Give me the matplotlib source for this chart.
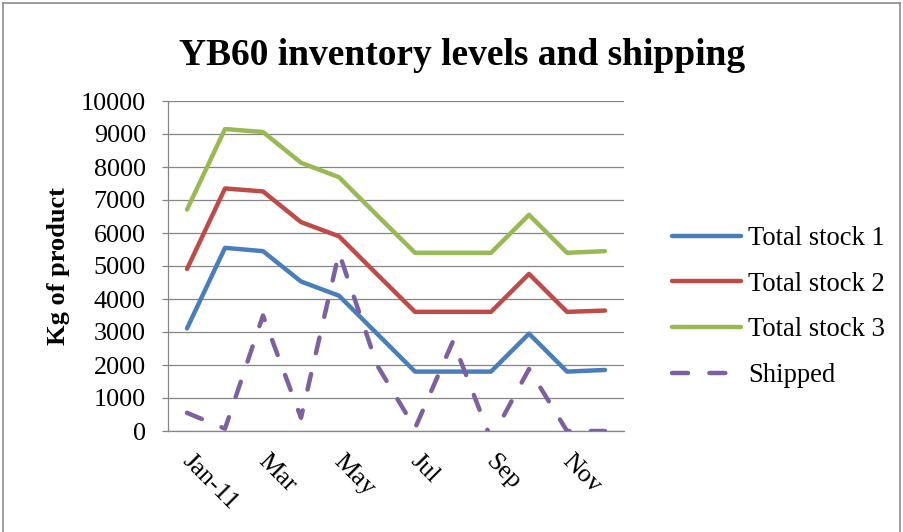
import matplotlib
matplotlib.use("Agg")
import matplotlib.pyplot as plt
from matplotlib.lines import Line2D
from matplotlib.transforms import ScaledTranslation

plt.rcParams['font.family'] = ['Liberation Serif', 'DejaVu Serif']

categories = ['Jan-11', 'Feb', 'Mar', 'Apr', 'May', 'Jun',
              'Jul', 'Aug', 'Sep', 'Oct', 'Nov', 'Dec']
stock1 = [3110, 5550, 5450, 4530, 4100, 2950, 1800, 1800, 1800, 2950, 1800, 1850]
stock2 = [4910, 7350, 7260, 6330, 5900, 4750, 3610, 3610, 3610, 4760, 3610, 3650]
stock3 = [6710, 9150, 9060, 8130, 7690, 6540, 5400, 5400, 5400, 6550, 5400, 5450]
shipped = [550, 70, 3500, 400, 5400, 2000, 80, 2720, -250, 1880, 0, 0]
series_names = ['Total stock 1', 'Total stock 2', 'Total stock 3', 'Shipped']
yticks = [0, 1000, 2000, 3000, 4000, 5000, 6000, 7000, 8000, 9000, 10000]

W, H = 904, 532
fig = plt.figure(figsize=(W / 100, H / 100), dpi=100)
ax = fig.add_axes([168 / W, 1 - 431 / H, (624 - 168) / W, (431 - 101) / H])

x = list(range(len(categories)))
lw = 3.2
ax.plot(x, stock1, color='#4A7EBB', lw=lw, solid_joinstyle='round', solid_capstyle='round', label=series_names[0], zorder=3)
ax.plot(x, stock2, color='#BE4B48', lw=lw, solid_joinstyle='round', solid_capstyle='round', label=series_names[1], zorder=3)
ax.plot(x, stock3, color='#98B954', lw=lw, solid_joinstyle='round', solid_capstyle='round', label=series_names[2], zorder=3)
ax.plot(x, shipped, color='#7D60A0', lw=lw, linestyle=(0, (3.6, 4.8)), dash_capstyle='round',
        dash_joinstyle='round', label=series_names[3], zorder=3)

ax.set_xlim(-0.5, len(categories) - 0.5)
ax.set_ylim(0, 10000)
ax.set_yticks(yticks)
ax.set_yticklabels([str(v) for v in yticks], fontsize=18.8)
ax.grid(axis='y', color='#868686', lw=0.9, zorder=1)
ax.set_axisbelow(True)

ax.set_xticks(x[::2])
ax.set_xticklabels(categories[::2], fontsize=18.8, rotation=-45, ha='left', va='top',
                   rotation_mode='anchor')
ax.tick_params(axis='x', length=0, pad=14)
ax.tick_params(axis='y', length=4, width=0.9, color='#868686', pad=12, direction='out')
for lab in ax.get_xticklabels():
    lab.set_transform(lab.get_transform() + ScaledTranslation(6 / 100, 0, fig.dpi_scale_trans))

for s in ['top', 'right']:
    ax.spines[s].set_visible(False)
for s in ['left', 'bottom']:
    ax.spines[s].set_color('#868686')
    ax.spines[s].set_linewidth(0.9)

ax.set_ylabel('Kg of product', fontsize=19, fontweight='bold')
ax.yaxis.set_label_coords((70 - 168) / 456, 0.5)

fig.text(462 / W, 1 - 65 / H, 'YB60 inventory levels and shipping', fontsize=27,
         fontweight='bold', ha='center', va='baseline')

fig.legend(loc='center left', bbox_to_anchor=(672 / W, 1 - 307 / H), frameon=False,
           fontsize=19.2, handlelength=2.6, handletextpad=0.25, labelspacing=0.775,
           borderpad=0, borderaxespad=0)

bc = '#8C8C8C'
fig.add_artist(Line2D([3.5 / W, 3.5 / W], [0, 1 - 2.5 / H], color=bc, lw=1.2, transform=fig.transFigure))
fig.add_artist(Line2D([3.5 / W, 900.5 / W], [1 - 2.5 / H, 1 - 2.5 / H], color=bc, lw=1.2, transform=fig.transFigure))
fig.add_artist(Line2D([900.5 / W, 900.5 / W], [0, 1 - 2.5 / H], color=bc, lw=1.2, transform=fig.transFigure))

fig.savefig('out.png', dpi=100)
